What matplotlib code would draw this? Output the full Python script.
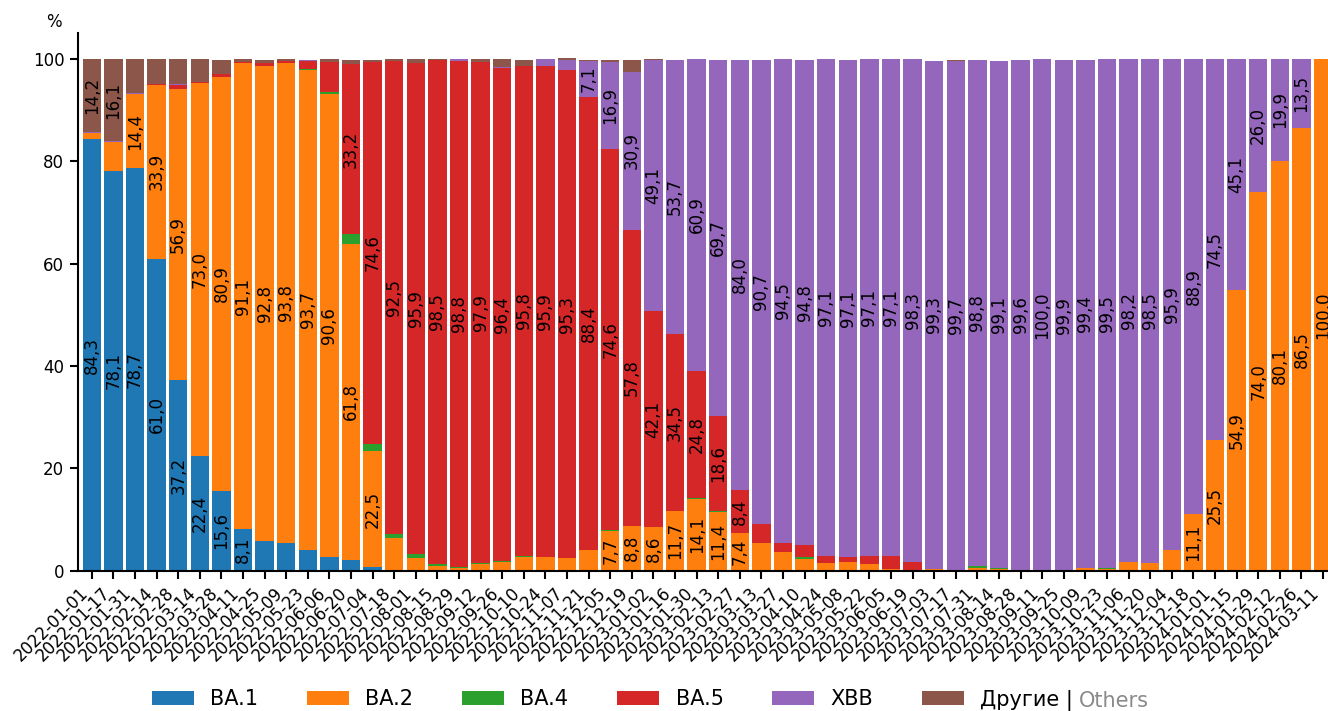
import numpy as np
import matplotlib
matplotlib.use("Agg")
import matplotlib.pyplot as plt

dates = [
    "2022-01-01", "2022-01-17", "2022-01-31", "2022-02-14", "2022-02-28", "2022-03-14",
    "2022-03-28", "2022-04-11", "2022-04-25", "2022-05-09", "2022-05-23", "2022-06-06",
    "2022-06-20", "2022-07-04", "2022-07-18", "2022-08-01", "2022-08-15", "2022-08-29",
    "2022-09-12", "2022-09-26", "2022-10-10", "2022-10-24", "2022-11-07", "2022-11-21",
    "2022-12-05", "2022-12-19", "2023-01-02", "2023-01-16", "2023-01-30", "2023-02-13",
    "2023-02-27", "2023-03-13", "2023-03-27", "2023-04-10", "2023-04-24", "2023-05-08",
    "2023-05-22", "2023-06-05", "2023-06-19", "2023-07-03", "2023-07-17", "2023-07-31",
    "2023-08-14", "2023-08-28", "2023-09-11", "2023-09-25", "2023-10-09", "2023-10-23",
    "2023-11-06", "2023-11-20", "2023-12-04", "2023-12-18", "2024-01-01", "2024-01-15",
    "2024-01-29", "2024-02-12", "2024-02-26", "2024-03-11",
]

ba1 = [84.3, 78.1, 78.7, 61.0, 37.2, 22.4, 15.6, 8.1, 5.9, 5.5, 4.1, 2.6,
       2.1, 0.8, 0, 0, 0, 0, 0, 0, 0, 0, 0, 0,
       0, 0, 0, 0, 0, 0, 0, 0, 0, 0, 0, 0,
       0, 0, 0, 0, 0, 0, 0, 0, 0, 0, 0, 0,
       0, 0, 0, 0, 0, 0, 0, 0, 0, 0]
ba2 = [1.3, 5.6, 14.4, 33.9, 56.9, 73.0, 80.9, 91.1, 92.8, 93.8, 93.7, 90.6,
       61.8, 22.5, 6.4, 2.5, 1.0, 0.6, 1.4, 1.8, 2.7, 2.7, 2.5, 4.1,
       7.7, 8.8, 8.6, 11.7, 14.1, 11.4, 7.4, 5.5, 3.7, 2.3, 1.6, 1.8,
       1.4, 0.4, 0.1, 0.4, 0, 0.6, 0.4, 0, 0, 0, 0.5, 0.3,
       1.8, 1.5, 4.1, 11.1, 25.5, 54.9, 74.0, 80.1, 86.5, 100.0]
ba4 = [0, 0, 0, 0, 0, 0, 0, 0, 0, 0, 0.2, 0.4,
       1.9, 1.5, 0.8, 0.8, 0.4, 0.2, 0.1, 0.1, 0.2, 0, 0, 0,
       0.2, 0, 0, 0, 0.2, 0.2, 0, 0, 0, 0.3, 0, 0,
       0, 0, 0, 0, 0, 0.4, 0.2, 0.2, 0, 0, 0, 0.2,
       0, 0, 0, 0, 0, 0, 0, 0, 0, 0]
ba5 = [0, 0, 0, 0.2, 0.8, 0.2, 0.6, 0.2, 0.5, 0.4, 1.6, 5.9,
       33.2, 74.6, 92.5, 95.9, 98.5, 98.8, 97.9, 96.4, 95.8, 95.9, 95.3, 88.4,
       74.6, 57.8, 42.1, 34.5, 24.8, 18.6, 8.4, 3.7, 1.8, 2.4, 1.3, 0.9,
       1.5, 2.5, 1.6, 0, 0, 0, 0, 0, 0, 0, 0, 0,
       0, 0, 0, 0, 0, 0, 0, 0, 0, 0]
xbb = [0.2, 0.2, 0.3, 0, 0.2, 0, 0, 0, 0, 0, 0.3, 0,
       0, 0, 0, 0, 0, 0.4, 0, 0.2, 0, 1.4, 2.1, 7.1,
       16.9, 30.9, 49.1, 53.7, 60.9, 69.7, 84.0, 90.7, 94.5, 94.8, 97.1, 97.1,
       97.1, 97.1, 98.3, 99.3, 99.7, 98.8, 99.1, 99.6, 100.0, 99.9, 99.4, 99.5,
       98.2, 98.5, 95.9, 88.9, 74.5, 45.1, 26.0, 19.9, 13.5, 0]
others = [14.2, 16.1, 6.6, 4.9, 4.9, 4.4, 2.7, 0.6, 0.6, 0.3, 0, 0.5,
          0.8, 0.5, 0.3, 0.8, 0.1, 0, 0.6, 1.5, 1.1, 0, 0.2, 0.3,
          0.5, 2.4, 0.2, 0, 0, 0, 0, 0, 0, 0, 0, 0,
          0, 0, 0, 0, 0.1, 0, 0, 0, 0, 0, 0, 0,
          0, 0, 0, 0, 0, 0, 0, 0, 0, 0]

SERIES = [
    ("BA.1", ba1, "#1f77b4"),
    ("BA.2", ba2, "#ff7f0e"),
    ("BA.4", ba4, "#2ca02c"),
    ("BA.5", ba5, "#d62728"),
    ("XBB", xbb, "#9467bd"),
    ("Другие |", others, "#8c564b"),
]

plt.rcParams["font.family"] = "DejaVu Sans"
plt.rcParams["font.size"] = 12

fig = plt.figure(figsize=(13.28, 7.11), dpi=100)
ax = fig.add_axes([0.0584, 0.1973, 0.946, 0.7557])

x = np.arange(len(dates))
bottom = np.zeros(len(dates))
for name, vals, color in SERIES:
    vals = np.array(vals)
    bars = ax.bar(x, vals, 0.855, bottom=bottom, color=color, label=name)
    labels = [f"{v:.1f}".replace(".", ",") if v >= 7 else "" for v in vals]
    ax.bar_label(bars, labels=labels, label_type="center", rotation=90, fontsize=12)
    bottom += vals

ax.set_xlim(-0.66, 57.5)
ax.set_ylim(0, 105)
ax.set_xticks(x)
ax.set_xticklabels(dates, rotation=45, ha="right")
ax.set_yticks(range(0, 101, 20))
ax.spines["top"].set_visible(False)
ax.spines["right"].set_visible(False)
ax.spines["left"].set_linewidth(1.5)
ax.spines["bottom"].set_linewidth(1.5)
ax.tick_params(width=1.5, length=6)

ax.annotate("%", xy=(0, 1), xycoords="axes fraction", xytext=(-24, 11),
            textcoords="offset pixels", ha="center", va="center", fontsize=12)

leg = ax.legend(loc="center left", bbox_to_anchor=(152 / 1328, 0.0155),
                bbox_transform=fig.transFigure, ncol=6, frameon=False,
                fontsize=15, borderpad=0, borderaxespad=0, columnspacing=2.34)

# grey english part after the legend label
fig.canvas.draw()
bb = leg.get_texts()[-1].get_window_extent()
fig.text((bb.x1 + 5) / fig.bbox.width, bb.y0 / fig.bbox.height, "Others",
         fontsize=15, color="#8a8a8a", ha="left", va="bottom")

fig.savefig("out.png", dpi=100)
